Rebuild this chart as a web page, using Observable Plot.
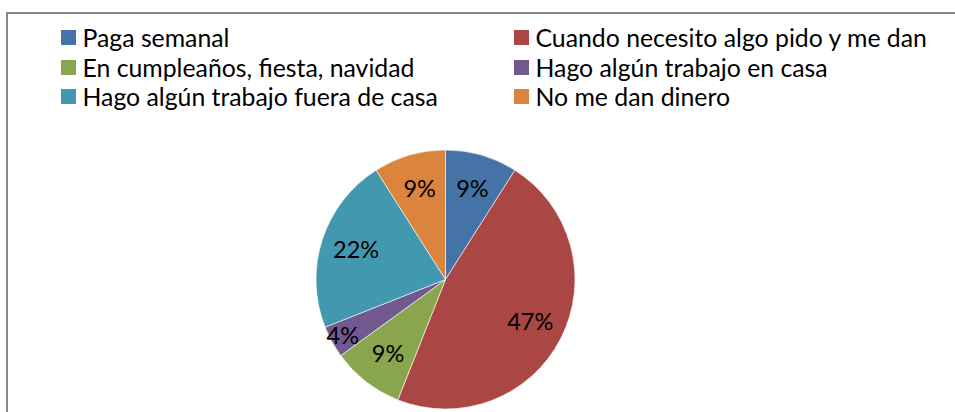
<!DOCTYPE html>
<html><head><meta charset="utf-8">
<script src="https://cdn.jsdelivr.net/npm/d3@7"></script>
<script src="https://cdn.jsdelivr.net/npm/@observablehq/plot@0.6"></script>
<style>
html,body{margin:0;padding:0;background:#fff;overflow:hidden;width:955px;height:412px}
#wrap{position:relative;width:955px;height:412px;overflow:hidden;background:#fff}
#chart{position:absolute;left:0;top:0}
#frame{position:absolute;left:6px;top:12px;width:1200px;height:800px;border:2px solid #878787;box-sizing:border-box}
#legend{position:absolute;left:61px;top:23px;display:grid;grid-template-columns:453px auto;grid-auto-rows:29.5px;font-family:Lato,sans-serif;font-size:24.8px;color:#000}
.item{display:flex;align-items:center;white-space:nowrap}
.sw{width:15px;height:15px;margin-right:6.5px;flex:none}
</style></head><body>
<div id="wrap"><div id="chart"></div><div id="frame"></div><div id="legend"></div></div>
<script>
const categories = [
  "Paga semanal",
  "Cuando necesito algo pido y me dan",
  "En cumpleaños, fiesta, navidad",
  "Hago algún trabajo en casa",
  "Hago algún trabajo fuera de casa",
  "No me dan dinero"
];
const percents = [9, 47, 9, 4, 22, 9];
const colors = ["#4572A7", "#AA4643", "#89A54E", "#71588F", "#4198AF", "#DB843D"];

const data = categories.map((c, i) => ({category: c, value: percents[i]}));
const total = d3.sum(percents);
const color = d3.scaleOrdinal(categories, colors);
const arcs = d3.pie().sort(null).value(d => d.value)(data);

const labels = arcs.map(a => {
  const mid = (a.startAngle + a.endAngle) / 2;
  const share = a.data.value / total;
  const r = share < 0.05 ? 0.91 : 0.73;
  return {x: r * Math.sin(mid), y: r * Math.cos(mid), label: Math.round(share * 100) + "%"};
});

function pieMark(index, scales) {
  const sx = scales.x, sy = scales.y;
  const cx = sx(0), cy = sy(0), R = sx(1) - sx(0);
  const g = d3.create("svg:g").attr("transform", `translate(${cx},${cy})`);
  const arc = d3.arc().innerRadius(0).outerRadius(R);
  g.selectAll("path").data(arcs).join("path")
    .attr("d", arc)
    .attr("fill", d => color(d.data.category))
    .attr("stroke", "#ffffff")
    .attr("stroke-width", 0.6)
    .attr("stroke-linejoin", "round");
  return g.node();
}

const plot = Plot.plot({
  width: 955,
  height: 412,
  margin: 0,
  style: {background: "transparent"},
  x: {domain: [-1, 1], range: [316, 575], axis: null},
  y: {domain: [-1, 1], range: [409, 150], axis: null},
  marks: [
    pieMark,
    Plot.text(labels, {x: "x", y: "y", text: "label", fontSize: 23.5, fontFamily: "Lato, sans-serif", fill: "#000"})
  ]
});
document.getElementById("chart").appendChild(plot);

const legend = document.getElementById("legend");
categories.forEach(c => {
  const item = document.createElement("div");
  item.className = "item";
  const sw = document.createElement("span");
  sw.className = "sw";
  sw.style.background = color(c);
  const t = document.createElement("span");
  t.textContent = c;
  item.appendChild(sw);
  item.appendChild(t);
  legend.appendChild(item);
});
</script>
</body></html>
